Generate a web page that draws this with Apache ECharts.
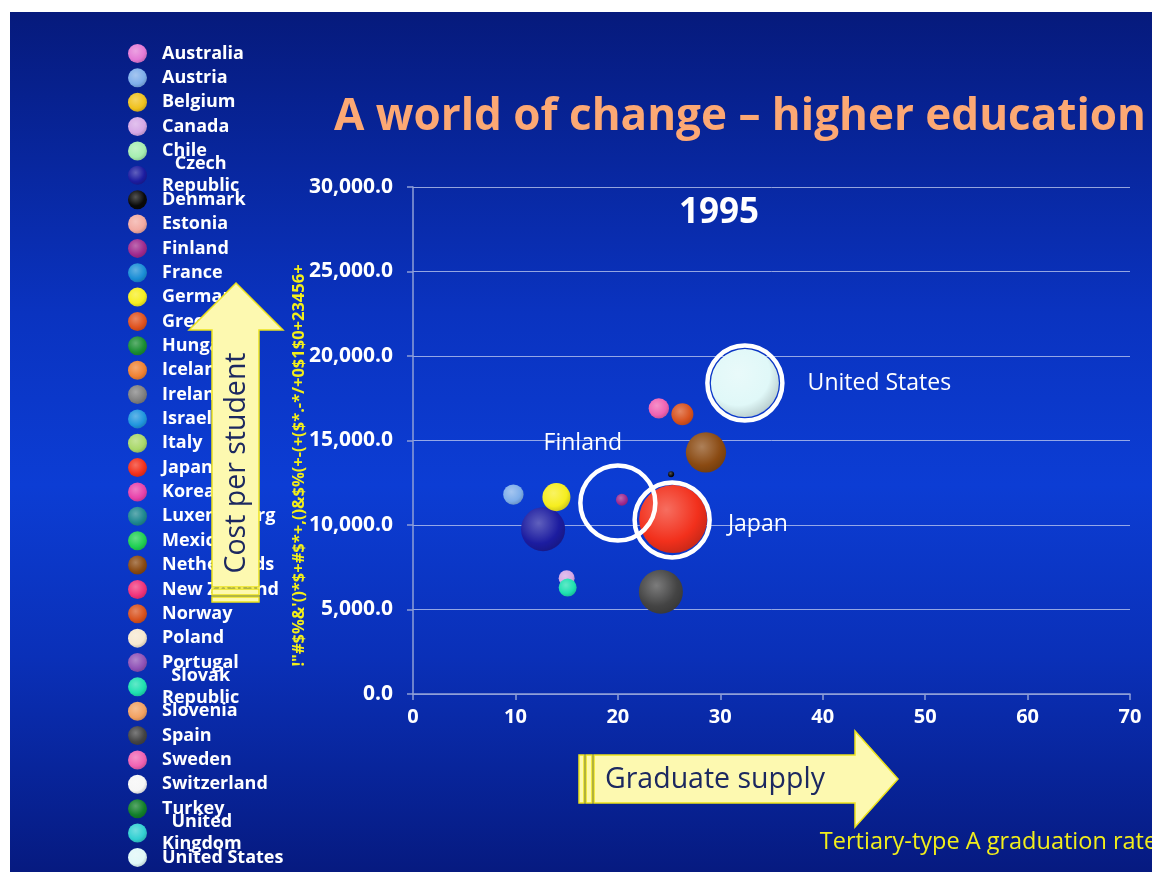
<!DOCTYPE html>
<html><head><meta charset="utf-8">
<script src="https://cdn.jsdelivr.net/npm/echarts@6/dist/echarts.min.js"></script>
<style>
html,body{margin:0;padding:0;background:#fff;}
#bg{position:absolute;left:10px;top:12px;width:1142px;height:860px;
 background:linear-gradient(to bottom,#061a7c 0%,#0a33c0 35%,#0c3dd4 55%,#0a30b8 75%,#061a80 100%);}
#c{position:absolute;left:0;top:0;width:1152px;height:872px;}
</style>
</head><body><div id="bg"></div><div id="c"></div>
<script>
// ---------- data ----------
const countries = ['Australia','Austria','Belgium','Canada','Chile','Czech Republic','Denmark','Estonia','Finland','France','Germany','Greece','Hungary','Iceland','Ireland','Israel','Italy','Japan','Korea','Luxembourg','Mexico','Netherlands','New Zealand','Norway','Poland','Portugal','Slovak Republic','Slovenia','Spain','Sweden','Switzerland','Turkey','United Kingdom','United States'];
const countryColors = ['#e47ad6','#7eaeea','#f0c21e','#d6a8e6','#a6eeb0','#1c1ca0','#0a0a0a','#f2aaa2','#a02a8e','#1a8ed6','#f6ee1e','#e0521e','#1a8e32','#f08232','#808080','#2096de','#aad86a','#f2301c','#e842aa','#1e8890','#20d052','#8a4a12','#f0327a','#d8521e','#f6e8d0','#9052b6','#1ee0b0','#f2a262','#444444','#f062b2','#f6f6f6','#12802a','#32d0d2','#e0f8f8'];
const wrappedNames = ['Czech Republic','Slovak Republic','United Kingdom'];

const bubbleCountries = ['United States','Sweden','Norway','Netherlands','Denmark','Japan','Finland','Austria','Germany','Czech Republic','Canada','Slovak Republic','Spain'];
const gradRate      = [32.4, 24.0, 26.3, 28.6, 25.2, 25.4, 20.4, 9.8, 14.0, 12.7, 15.0, 15.1, 24.2];
const costPerStudent= [18400, 16900, 16550, 14300, 13000, 10350, 11500, 11800, 11650, 9750, 6850, 6300, 6050];
const bubbleWeight  = [100, 9, 10.5, 35, 0.8, 100, 3.1, 9, 17, 42, 5.5, 7, 42];

const highlighted = ['Finland','Japan','United States'];
const highlightX  = [20.0, 25.3, 32.4];
const highlightY  = [11300, 10300, 18400];

const xTicks = [0,10,20,30,40,50,60,70];
const yTicks = [0,5000,10000,15000,20000,25000,30000];

const titleText = 'A world of change \u2013 higher education';
const yearText = '1995';
const xAxisName = 'Tertiary-type A graduation rate';
const yAxisName = '!"#$%&\'()*$+#$*+,()&$%(+-(+($*.-*/+0$1$0+23456+';
const xArrowText = 'Graduate supply';
const yArrowText = 'Cost per student';

// ---------- helpers ----------
const FONT = "'Comic Sans MS','Open Sans',sans-serif";
function hexToRgb(h){h=h.replace('#','');return [0,2,4].map(i=>parseInt(h.substr(i,2),16));}
function mix(c, t, k){const a=hexToRgb(c),b=hexToRgb(t);return 'rgb('+a.map((v,i)=>Math.round(v+(b[i]-v)*k)).join(',')+')';}
function ball(c){
  return new echarts.graphic.RadialGradient(0.4,0.36,0.72,[
    {offset:0,color:mix(c,'#ffffff',0.3)},
    {offset:0.65,color:c},
    {offset:0.9,color:mix(c,'#000000',0.15)},
    {offset:1,color:mix(c,'#1a2aa0',0.45)}
  ]);
}

const chart = echarts.init(document.getElementById('c'), null, {renderer:'canvas'});

// series per country
const series = countries.map((name, ci) => {
  const pts = [];
  bubbleCountries.forEach((b, i) => { if (b === name) pts.push([gradRate[i], costPerStudent[i], bubbleWeight[i]]); });
  return {
    name, type:'scatter', data: pts,
    symbolSize: v => Math.sqrt(v[2]) * 6.8,
    itemStyle: {color: ball(countryColors[ci]), opacity:1},
    z: 3
  };
});

const ringLabel = {
  'United States': {position:'right', distance:23},
  'Japan': {position:'right', distance:16, offset:[0,5]},
  'Finland': {position:'top', distance:8, offset:[-35,0]}
};
series.push({
  name:'highlight', type:'scatter', silent:true, z:5,
  symbol:'circle', symbolSize:75,
  itemStyle:{color:'rgba(0,0,0,0)', borderColor:'#ffffff', borderWidth:4.5, opacity:1},
  data: highlighted.map((n,i)=>({name:n, value:[highlightX[i], highlightY[i]],
    label:Object.assign({show:true, formatter:'{b}', color:'#ffffff', opacity:1, fontSize:23, fontFamily:FONT}, ringLabel[n])}))
});

// legends, one per row
const rowStep = 24.36, rowStart = 52.5;
const legends = countries.map((name, i) => {
  const two = wrappedNames.indexOf(name) >= 0;
  const cy = rowStart + i*rowStep;
  return {
    data:[name], orient:'vertical', left:128, top: cy - (two ? 21 : 10),
    padding:0, itemGap:0, itemWidth:19, itemHeight:19, icon:'circle',
    selectedMode:false,
    formatter: n => two ? n.split(' ').map(p=>'{c|'+p+'}').join('\n') : n,
    textStyle:{color:'#ffffff', fontSize:18, fontWeight:'bold', fontFamily:FONT, lineHeight:22, padding:[0,0,0,10],
      rich:{c:{align:'center', color:'#ffffff', fontSize:18, fontWeight:'bold', fontFamily:FONT, lineHeight:22}}}
  };
});

const arrowFill = '#fdf9b0', arrowStroke = '#ece21c';
const graphics = [
  // vertical arrow
  {type:'polygon', z:20, shape:{points:[[212,587],[212,330],[189,330],[236,283],[283,330],[259,330],[259,587]]}, style:{fill:arrowFill, stroke:arrowStroke, lineWidth:1.5}},
  {type:'rect', z:20, shape:{x:212,y:589,width:47,height:6}, style:{fill:arrowFill, stroke:arrowStroke, lineWidth:1.5}},
  {type:'rect', z:20, shape:{x:212,y:597,width:47,height:5}, style:{fill:arrowFill, stroke:arrowStroke, lineWidth:1.5}},
  {type:'text', z:21, x:237, y:463, rotation:Math.PI/2, style:{text:yArrowText, fill:'#1c2860', font:'28.5px '+FONT, align:'center', verticalAlign:'middle'}},
  // horizontal arrow
  {type:'polygon', z:20, shape:{points:[[594,755],[855,755],[855,731],[898,779],[855,827],[855,803],[594,803]]}, style:{fill:arrowFill, stroke:arrowStroke, lineWidth:1.5}},
  {type:'rect', z:20, shape:{x:586,y:755,width:6,height:48}, style:{fill:arrowFill, stroke:arrowStroke, lineWidth:1.5}},
  {type:'rect', z:20, shape:{x:579,y:755,width:5,height:48}, style:{fill:arrowFill, stroke:arrowStroke, lineWidth:1.5}},
  {type:'text', z:21, x:605, y:780, style:{text:xArrowText, fill:'#1c2860', font:'28.5px '+FONT, align:'left', verticalAlign:'middle'}}
];

const axisLineColor = '#8e9fd6';
chart.setOption({
  animation:false,
  backgroundColor:'transparent',
  title:[
    {text:titleText, left:334, top:95, padding:0, textStyle:{color:'#fca874', fontSize:44, fontWeight:'bold', fontFamily:FONT, lineHeight:44}},
    {text:yearText, left:679, top:197, padding:0, textStyle:{color:'#ffffff', fontSize:35, fontWeight:'bold', fontFamily:FONT, lineHeight:32}}
  ],
  legend: legends,
  grid:{left:413, right:22, top:187, bottom:178, containLabel:false, outerBoundsMode:'none'},
  xAxis:{
    type:'value', min:xTicks[0], max:xTicks[xTicks.length-1], interval:xTicks[1]-xTicks[0],
    name:xAxisName, nameLocation:'middle', nameGap:136, nameMoveOverlap:false,
    nameTextStyle:{color:'#f2ee1a', fontSize:23.5, fontFamily:FONT, lineHeight:24, padding:[0,0,0,434]},
    axisLine:{show:true, lineStyle:{color:axisLineColor, width:1.5}},
    axisTick:{show:true, length:6, lineStyle:{color:axisLineColor, width:1.5}},
    axisLabel:{color:'#ffffff', fontSize:20, fontWeight:'bold', fontFamily:FONT, margin:13},
    splitLine:{show:false}
  },
  yAxis:{
    type:'value', min:yTicks[0], max:yTicks[yTicks.length-1], interval:yTicks[1]-yTicks[0],
    name:yAxisName, nameLocation:'middle', nameGap:105, nameRotate:90, nameMoveOverlap:false,
    nameTextStyle:{color:'#f2ee1a', fontSize:16.5, fontWeight:'bold', fontFamily:FONT, padding:[0,50,0,0]},
    axisLine:{show:true, lineStyle:{color:axisLineColor, width:1.5}},
    axisTick:{show:true, length:6, lineStyle:{color:axisLineColor, width:1.5}},
    axisLabel:{color:'#ffffff', fontSize:21, fontWeight:'bold', fontFamily:FONT, margin:20,
      formatter: v => v.toLocaleString('en-US',{minimumFractionDigits:1, maximumFractionDigits:1})},
    splitLine:{show:true, lineStyle:{color:'rgba(195,205,240,0.75)', width:1}}
  },
  series,
  graphic: graphics
});
</script>
</body></html>
